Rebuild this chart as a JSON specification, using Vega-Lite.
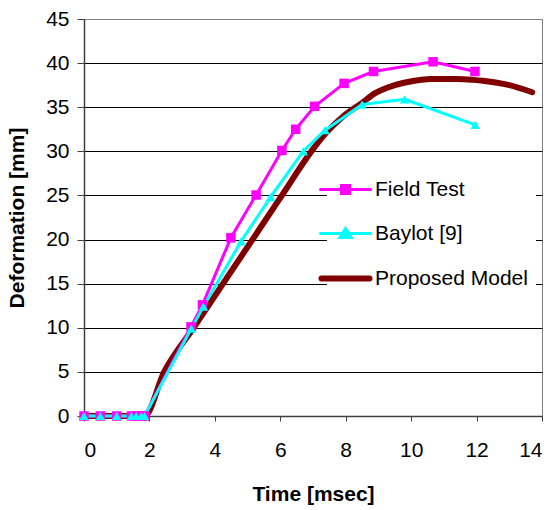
{
  "$schema": "https://vega.github.io/schema/vega-lite/v6.json",
  "width": 458,
  "height": 397,
  "autosize": {"type": "none"},
  "padding": {"left": 84, "top": 19, "right": 13, "bottom": 94},
  "background": "white",
  "config": {
    "font": "Liberation Sans",
    "view": {"stroke": "#808080", "strokeWidth": 1},
    "axis": {"labelFont": "Liberation Sans", "titleFont": "Liberation Sans", "labelColor": "#000", "titleColor": "#000", "domainColor": "#404040", "tickColor": "#404040", "labelFontSize": 21, "titleFontSize": 21, "titleFontWeight": "bold"}
  },
  "data": {"values": [
    {"series": "Field Test", "t": 0, "d": 0},
    {"series": "Field Test", "t": 0.5, "d": 0},
    {"series": "Field Test", "t": 1.0, "d": 0},
    {"series": "Field Test", "t": 1.45, "d": 0},
    {"series": "Field Test", "t": 1.6, "d": 0},
    {"series": "Field Test", "t": 1.75, "d": 0},
    {"series": "Field Test", "t": 1.85, "d": 0},
    {"series": "Field Test", "t": 3.27, "d": 10.1},
    {"series": "Field Test", "t": 3.62, "d": 12.6},
    {"series": "Field Test", "t": 4.49, "d": 20.2},
    {"series": "Field Test", "t": 5.26, "d": 25.05},
    {"series": "Field Test", "t": 6.05, "d": 30.1},
    {"series": "Field Test", "t": 6.47, "d": 32.5},
    {"series": "Field Test", "t": 7.05, "d": 35.1},
    {"series": "Field Test", "t": 7.95, "d": 37.7},
    {"series": "Field Test", "t": 8.85, "d": 39.05},
    {"series": "Field Test", "t": 10.67, "d": 40.15},
    {"series": "Field Test", "t": 11.95, "d": 39.05},
    {"series": "Baylot [9]", "t": 0, "d": 0},
    {"series": "Baylot [9]", "t": 0.5, "d": 0},
    {"series": "Baylot [9]", "t": 1.0, "d": 0},
    {"series": "Baylot [9]", "t": 1.45, "d": 0},
    {"series": "Baylot [9]", "t": 1.6, "d": 0},
    {"series": "Baylot [9]", "t": 1.75, "d": 0},
    {"series": "Baylot [9]", "t": 1.85, "d": 0},
    {"series": "Baylot [9]", "t": 3.28, "d": 9.9},
    {"series": "Baylot [9]", "t": 3.65, "d": 12.4},
    {"series": "Baylot [9]", "t": 4.8, "d": 19.8},
    {"series": "Baylot [9]", "t": 5.7, "d": 24.8},
    {"series": "Baylot [9]", "t": 6.7, "d": 30.0},
    {"series": "Baylot [9]", "t": 7.37, "d": 32.4},
    {"series": "Baylot [9]", "t": 8.5, "d": 35.3},
    {"series": "Baylot [9]", "t": 9.8, "d": 35.9},
    {"series": "Baylot [9]", "t": 11.96, "d": 33.0},
    {"series": "Proposed Model", "t": 0, "d": 0},
    {"series": "Proposed Model", "t": 1.85, "d": 0},
    {"series": "Proposed Model", "t": 2.45, "d": 5},
    {"series": "Proposed Model", "t": 3.35, "d": 10},
    {"series": "Proposed Model", "t": 4.25, "d": 15},
    {"series": "Proposed Model", "t": 5.15, "d": 20},
    {"series": "Proposed Model", "t": 6.05, "d": 25},
    {"series": "Proposed Model", "t": 6.95, "d": 30},
    {"series": "Proposed Model", "t": 7.4, "d": 32.1},
    {"series": "Proposed Model", "t": 7.9, "d": 33.9},
    {"series": "Proposed Model", "t": 8.5, "d": 35.5},
    {"series": "Proposed Model", "t": 8.9, "d": 36.6},
    {"series": "Proposed Model", "t": 9.5, "d": 37.5},
    {"series": "Proposed Model", "t": 10.1, "d": 38.0},
    {"series": "Proposed Model", "t": 10.6, "d": 38.2},
    {"series": "Proposed Model", "t": 11.4, "d": 38.2},
    {"series": "Proposed Model", "t": 11.9, "d": 38.1},
    {"series": "Proposed Model", "t": 12.2, "d": 38.0},
    {"series": "Proposed Model", "t": 13.0, "d": 37.5},
    {"series": "Proposed Model", "t": 13.7, "d": 36.7}
  ]},
  "encoding": {
    "x": {"field": "t", "type": "quantitative", "scale": {"domain": [0, 14], "nice": false, "zero": false},
      "axis": {"values": [0, 2, 4, 6, 8, 10, 12, 14], "grid": false, "tickSize": 5, "labelPadding": 18, "title": "Time [msec]", "titlePadding": 23, "domainWidth": 1.5}},
    "y": {"field": "d", "type": "quantitative", "scale": {"domain": [0, 45], "nice": false},
      "axis": {"values": [0, 5, 10, 15, 20, 25, 30, 35, 40, 45], "grid": true, "gridColor": {"condition": {"test": "datum.value === 45", "value": "#808080"}, "value": "#000000"}, "gridWidth": 1, "gridOpacity": 1, "tickSize": 7, "labelPadding": 8, "title": "Deformation [mm]", "titlePadding": 18, "domainWidth": 1.5}},
    "color": {"field": "series", "type": "nominal",
      "scale": {"domain": ["Field Test", "Baylot [9]", "Proposed Model"], "range": ["#FF00FF", "#00FFFF", "#800000"]}}
  },
  "layer": [
    {
      "transform": [{"filter": "datum.series === 'Proposed Model'"}],
      "mark": {"type": "line", "strokeWidth": 6, "strokeCap": "round", "strokeJoin": "round", "interpolate": "monotone"},
      "encoding": {
        "color": {"field": "series", "type": "nominal",
          "scale": {"domain": ["Field Test", "Baylot [9]", "Proposed Model"], "range": ["#FF00FF", "#00FFFF", "#800000"]},
          "legend": {
            "orient": "none", "legendX": 243, "legendY": 152, "title": null,
            "fillColor": "white", "strokeColor": null, "padding": 8,
            "symbolSize": 1600, "rowPadding": 22, "labelOffset": 19,
            "labelFontSize": 21, "labelFont": "Liberation Sans", "labelColor": "#000", "labelLimit": 300,
            "encode": {"symbols": {"update": {
              "shape": {"signal": "datum.value === 'Field Test' ? 'M-1.25,0H1.25M-0.2,-0.2H0.2V0.2H-0.2Z' : (datum.value === 'Baylot [9]' ? 'M-1.25,0H1.25M0,-0.25L0.28,0.2H-0.28Z' : 'M-1.2,0H1.2')"},
              "fill": {"scale": "color", "field": "value"},
              "stroke": {"scale": "color", "field": "value"},
              "strokeWidth": {"signal": "datum.value === 'Proposed Model' ? 6 : 3"},
              "strokeCap": {"value": "round"},
              "opacity": {"value": 1},
              "fillOpacity": {"value": 1},
              "strokeOpacity": {"value": 1}
            }}}
          }}
      }
    },
    {
      "transform": [{"filter": "datum.series !== 'Proposed Model'"}],
      "mark": {"type": "line", "strokeWidth": 3, "strokeJoin": "round"}
    },
    {
      "transform": [{"filter": "datum.series !== 'Proposed Model'"}],
      "mark": {"type": "point", "filled": true, "opacity": 1, "size": 90},
      "encoding": {
        "shape": {"field": "series", "type": "nominal", "scale": {"domain": ["Field Test", "Baylot [9]"], "range": ["square", "triangle-up"]}, "legend": null}
      }
    }
  ]
}
